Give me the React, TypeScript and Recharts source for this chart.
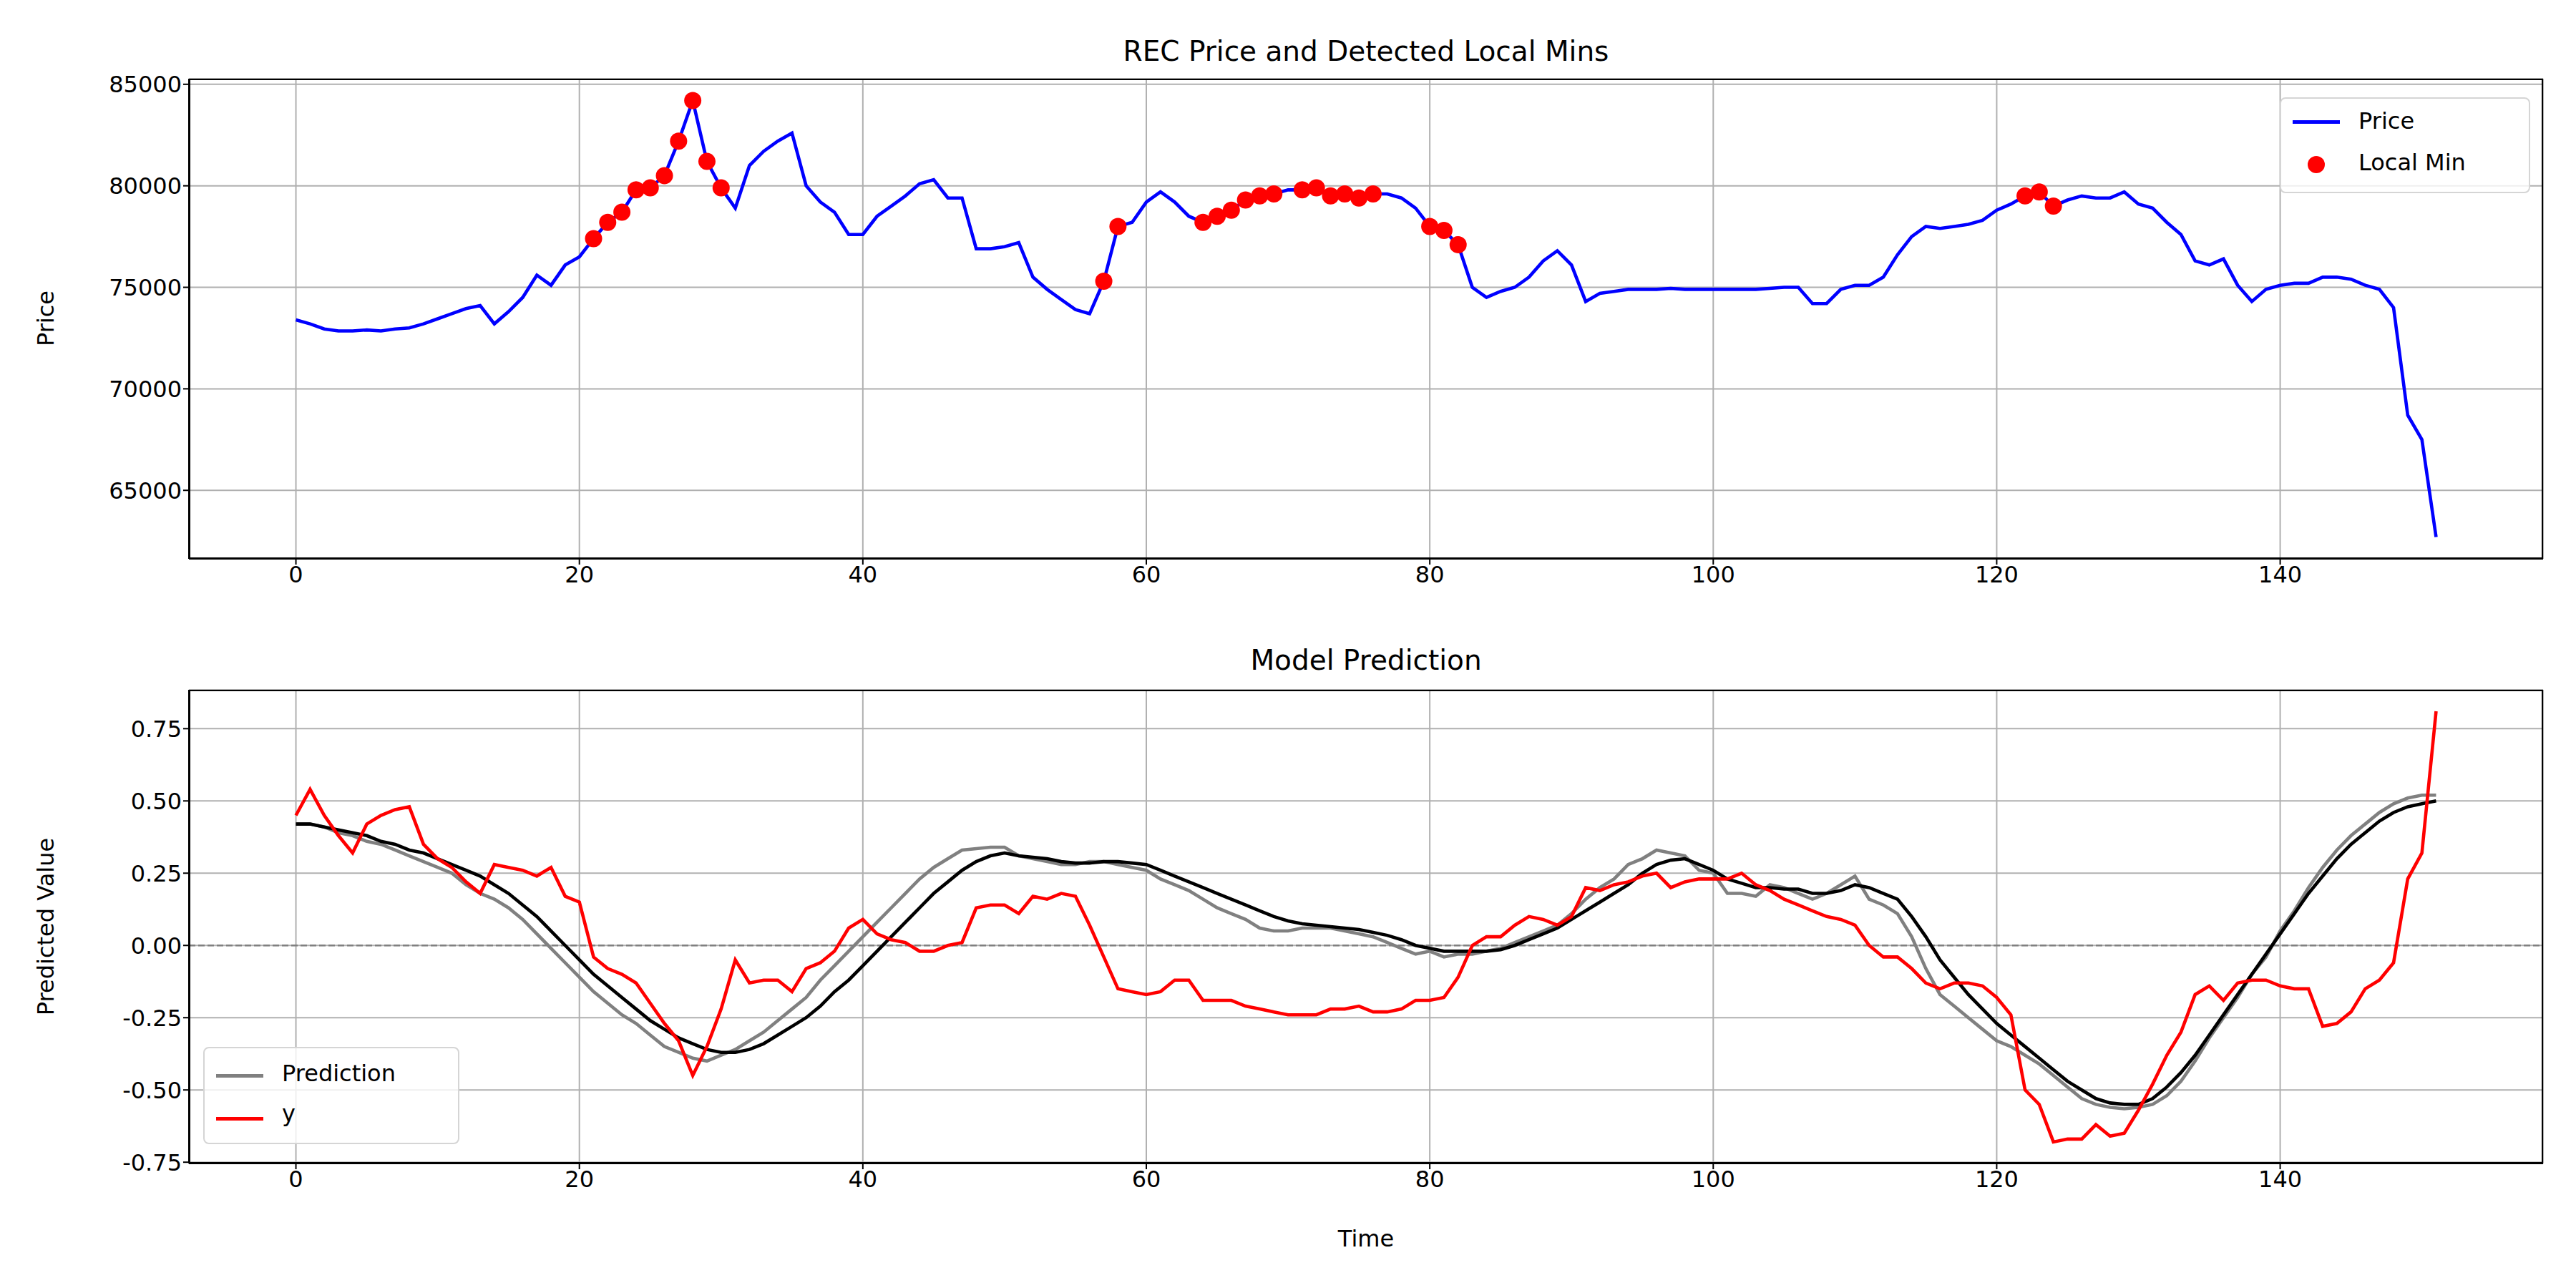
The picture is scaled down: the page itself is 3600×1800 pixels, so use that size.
import React from "react";
import { ComposedChart, Line, XAxis, YAxis, CartesianGrid, ReferenceLine } from "recharts";

const price = [
  73400, 73200, 72950, 72850, 72850, 72900, 72850, 72950, 73000, 73200,
  73450, 73700, 73950, 74100, 73200, 73800, 74500, 75600, 75100, 76100,
  76500, 77400, 78200, 78700, 79800, 79900, 80500, 82200, 84200, 81200,
  79900, 78900, 81000, 81700, 82200, 82600, 80000, 79200, 78700, 77600,
  77600, 78500, 79000, 79500, 80100, 80300, 79400, 79400, 76900, 76900,
  77000, 77200, 75500, 74900, 74400, 73900, 73700, 75300, 78000, 78200,
  79200, 79700, 79200, 78500, 78200, 78500, 78800, 79300, 79500, 79600,
  79800, 79800, 79900, 79500, 79600, 79400, 79600, 79600, 79400, 78900,
  78000, 77800, 77100, 75000, 74500, 74800, 75000, 75500, 76300, 76800,
  76100, 74300, 74700, 74800, 74900, 74900, 74900, 74950, 74900, 74900,
  74900, 74900, 74900, 74900, 74950, 75000, 75000, 74200, 74200, 74900,
  75100, 75100, 75500, 76600, 77500, 78000, 77900, 78000, 78100, 78300,
  78800, 79100, 79500, 79700, 79000, 79300, 79500, 79400, 79400, 79700,
  79100, 78900, 78200, 77600, 76300, 76100, 76400, 75100, 74300, 74900,
  75100, 75200, 75200, 75500, 75500, 75400, 75100, 74900, 74000, 68700,
  67500, 62700,
];

const localMinIdx = [21, 22, 23, 24, 25, 26, 27, 28, 29, 30, 57, 58, 64, 65, 66, 67, 68, 69, 71, 72, 73, 74, 75, 76, 80, 81, 82, 122, 123, 124];

const prediction = [
  0.42, 0.42, 0.41, 0.39, 0.38, 0.36, 0.35, 0.33, 0.31, 0.29,
  0.27, 0.25, 0.21, 0.18, 0.16, 0.13, 0.09, 0.04, -0.01, -0.06,
  -0.11, -0.16, -0.2, -0.24, -0.27, -0.31, -0.35, -0.37, -0.39, -0.4,
  -0.38, -0.36, -0.33, -0.3, -0.26, -0.22, -0.18, -0.12, -0.07, -0.02,
  0.03, 0.08, 0.13, 0.18, 0.23, 0.27, 0.3, 0.33, 0.335, 0.34,
  0.34, 0.31, 0.3, 0.29, 0.28, 0.28, 0.29, 0.29, 0.28, 0.27,
  0.26, 0.23, 0.21, 0.19, 0.16, 0.13, 0.11, 0.09, 0.06, 0.05,
  0.05, 0.06, 0.06, 0.06, 0.05, 0.04, 0.03, 0.01, -0.01, -0.03,
  -0.02, -0.04, -0.03, -0.03, -0.02, -0.01, 0.01, 0.03, 0.05, 0.07,
  0.11, 0.16, 0.2, 0.23, 0.28, 0.3, 0.33, 0.32, 0.31, 0.26,
  0.25, 0.18, 0.18, 0.17, 0.21, 0.2, 0.18, 0.16, 0.18, 0.21,
  0.24, 0.16, 0.14, 0.11, 0.03, -0.08, -0.17, -0.21, -0.25, -0.29,
  -0.33, -0.35, -0.38, -0.41, -0.45, -0.49, -0.53, -0.55, -0.56, -0.565,
  -0.56, -0.55, -0.52, -0.47, -0.4, -0.32, -0.25, -0.18, -0.1, -0.04,
  0.05, 0.12, 0.2, 0.27, 0.33, 0.38, 0.42, 0.46, 0.49, 0.51,
  0.52, 0.52,
];

const smoothed = [
  0.42, 0.42, 0.41, 0.4, 0.39, 0.38, 0.36, 0.35, 0.33, 0.32,
  0.3, 0.28, 0.26, 0.24, 0.21, 0.18, 0.14, 0.1, 0.05, 0.0,
  -0.05, -0.1, -0.14, -0.18, -0.22, -0.26, -0.29, -0.32, -0.34, -0.36,
  -0.37, -0.37, -0.36, -0.34, -0.31, -0.28, -0.25, -0.21, -0.16, -0.12,
  -0.07, -0.02, 0.03, 0.08, 0.13, 0.18, 0.22, 0.26, 0.29, 0.31,
  0.32, 0.31, 0.305, 0.3, 0.29, 0.285, 0.285, 0.29, 0.29, 0.285,
  0.28, 0.26, 0.24, 0.22, 0.2, 0.18, 0.16, 0.14, 0.12, 0.1,
  0.085, 0.075, 0.07, 0.065, 0.06, 0.055, 0.045, 0.035, 0.02, 0.0,
  -0.01, -0.02, -0.02, -0.02, -0.02, -0.015, 0.0, 0.02, 0.04, 0.06,
  0.09, 0.12, 0.15, 0.18, 0.21, 0.25, 0.28, 0.295, 0.3, 0.28,
  0.26, 0.23, 0.215, 0.2, 0.2, 0.195, 0.195, 0.18, 0.18, 0.19,
  0.21, 0.2, 0.18, 0.16, 0.1, 0.03, -0.05, -0.11, -0.17, -0.22,
  -0.27, -0.31, -0.35, -0.39, -0.43, -0.47, -0.5, -0.53, -0.545, -0.55,
  -0.55, -0.53, -0.49, -0.44, -0.38, -0.31, -0.24, -0.17, -0.1, -0.03,
  0.04, 0.11, 0.18, 0.24, 0.3, 0.35, 0.39, 0.43, 0.46, 0.48,
  0.49, 0.5,
];

const yTrue = [
  0.45, 0.54, 0.45, 0.38, 0.32, 0.42, 0.45, 0.47, 0.48, 0.35,
  0.3, 0.27, 0.22, 0.18, 0.28, 0.27, 0.26, 0.24, 0.27, 0.17,
  0.15, -0.04, -0.08, -0.1, -0.13, -0.2, -0.27, -0.33, -0.45, -0.35,
  -0.22, -0.05, -0.13, -0.12, -0.12, -0.16, -0.08, -0.06, -0.02, 0.06,
  0.09, 0.04, 0.02, 0.01, -0.02, -0.02, 0.0, 0.01, 0.13, 0.14,
  0.14, 0.11, 0.17, 0.16, 0.18, 0.17, 0.07, -0.04, -0.15, -0.16,
  -0.17, -0.16, -0.12, -0.12, -0.19, -0.19, -0.19, -0.21, -0.22, -0.23,
  -0.24, -0.24, -0.24, -0.22, -0.22, -0.21, -0.23, -0.23, -0.22, -0.19,
  -0.19, -0.18, -0.11, 0.0, 0.03, 0.03, 0.07, 0.1, 0.09, 0.07,
  0.1, 0.2, 0.19, 0.21, 0.22, 0.24, 0.25, 0.2, 0.22, 0.23,
  0.23, 0.23, 0.25, 0.21, 0.19, 0.16, 0.14, 0.12, 0.1, 0.09,
  0.07, 0.0, -0.04, -0.04, -0.08, -0.13, -0.15, -0.13, -0.13, -0.14,
  -0.18, -0.24, -0.5, -0.55, -0.68, -0.67, -0.67, -0.62, -0.66, -0.65,
  -0.57, -0.48, -0.38, -0.3, -0.17, -0.14, -0.19, -0.13, -0.12, -0.12,
  -0.14, -0.15, -0.15, -0.28, -0.27, -0.23, -0.15, -0.12, -0.06, 0.23,
  0.32, 0.81,
];

const xTicks = [0, 20, 40, 60, 80, 100, 120, 140];
const priceTicks = [65000, 70000, 75000, 80000, 85000];
const predTicks = [-0.75, -0.5, -0.25, 0, 0.25, 0.5, 0.75];

const topData = price.map((p, t) => ({ t, price: p, min: localMinIdx.includes(t) ? p : null }));
const bottomData = prediction.map((p, t) => ({ t, pred: p, smooth: smoothed[t], y: yTrue[t] }));

const FONT = "'DejaVu Sans', sans-serif";
const tick = { fill: "#000", fontSize: 32, fontFamily: FONT };
const PL = 264;
const PR = 3554;
const W = 3600;
const YW = 200;
const XH = 60;

const Frame = ({ top, bottom }: { top: number; bottom: number }) => (
  <div style={{ position: "absolute", left: PL, top, width: PR - PL, height: bottom - top, border: "2px solid #000", boxSizing: "border-box", pointerEvents: "none" }} />
);

const Text = ({ x, y, children, size = 39, rotate = false }: any) => (
  <div style={{ position: "absolute", left: x, top: y, transform: `translate(-50%, -50%)${rotate ? " rotate(-90deg)" : ""}`, fontFamily: FONT, fontSize: size, whiteSpace: "nowrap", color: "#000" }}>
    {children}
  </div>
);

export default function App() {
  const topH = 900;
  const botTop = 900;
  const botH = 900;
  return (
    <div style={{ position: "absolute", left: 0, top: 0, width: 3600, height: 1800, background: "#fff" }}>
      <div style={{ position: "absolute", left: 0, top: 0 }}>
        <ComposedChart width={W} height={topH} data={topData} margin={{ top: 110, bottom: topH - 781 - XH, left: PL - YW, right: W - PR }}>
          <CartesianGrid stroke="#b0b0b0" strokeWidth={2} />
          <XAxis dataKey="t" type="number" height={XH} domain={[-7.55, 158.55]} ticks={xTicks} tick={tick} tickSize={8} stroke="#000" strokeWidth={2} allowDataOverflow />
          <YAxis type="number" domain={[61625, 85275]} ticks={priceTicks} tick={tick} tickSize={8} width={YW} stroke="#000" strokeWidth={2} allowDataOverflow />
          <Line dataKey="price" stroke="#0000ff" strokeWidth={4.6} dot={false} isAnimationActive={false} />
          <Line dataKey="min" stroke="none" connectNulls={false} dot={{ r: 12, fill: "#ff0000", stroke: "none" }} isAnimationActive={false} />
        </ComposedChart>
      </div>
      <div style={{ position: "absolute", left: 0, top: botTop }}>
        <ComposedChart width={W} height={botH} data={bottomData} margin={{ top: 964 - botTop, bottom: botTop + botH - 1626 - XH, left: PL - YW, right: W - PR }}>
          <CartesianGrid stroke="#b0b0b0" strokeWidth={2} />
          <XAxis dataKey="t" type="number" height={XH} domain={[-7.55, 158.55]} ticks={xTicks} tick={tick} tickSize={8} stroke="#000" strokeWidth={2} allowDataOverflow />
          <YAxis type="number" domain={[-0.7545, 0.8845]} ticks={predTicks} tickFormatter={(v: number) => v.toFixed(2)} tick={tick} tickSize={8} width={YW} stroke="#000" strokeWidth={2} allowDataOverflow />
          <ReferenceLine y={0} stroke="#808080" strokeWidth={2.5} strokeDasharray="9 4" />
          <Line dataKey="pred" stroke="#808080" strokeWidth={4.6} dot={false} isAnimationActive={false} />
          <Line dataKey="smooth" stroke="#000000" strokeWidth={4.6} dot={false} isAnimationActive={false} />
          <Line dataKey="y" stroke="#ff0000" strokeWidth={4.6} dot={false} isAnimationActive={false} />
        </ComposedChart>
      </div>
      <Frame top={110} bottom={781} />
      <Frame top={964} bottom={1626} />
      <Text x={(PL + PR) / 2} y={71}>REC Price and Detected Local Mins</Text>
      <Text x={(PL + PR) / 2} y={922}>Model Prediction</Text>
      <Text x={64} y={445} size={32} rotate>Price</Text>
      <Text x={64} y={1295} size={32} rotate>Predicted Value</Text>
      <Text x={(PL + PR) / 2} y={1731} size={32}>Time</Text>
      <div style={{ position: "absolute", left: 3186, top: 136, width: 350, height: 134, border: "2px solid #d5d5d5", borderRadius: 8, background: "rgba(255,255,255,0.8)", boxSizing: "border-box", fontFamily: FONT, fontSize: 32 }}>
        <div style={{ position: "absolute", left: 16, top: 30, width: 66, height: 5, background: "#0000ff" }} />
        <div style={{ position: "absolute", left: 108, top: 12 }}>Price</div>
        <div style={{ position: "absolute", left: 37, top: 80, width: 24, height: 24, borderRadius: 12, background: "#ff0000" }} />
        <div style={{ position: "absolute", left: 108, top: 70 }}>Local Min</div>
      </div>
      <div style={{ position: "absolute", left: 284, top: 1463, width: 358, height: 136, border: "2px solid #d5d5d5", borderRadius: 8, background: "rgba(255,255,255,0.8)", boxSizing: "border-box", fontFamily: FONT, fontSize: 32 }}>
        <div style={{ position: "absolute", left: 16, top: 36, width: 66, height: 5, background: "#808080" }} />
        <div style={{ position: "absolute", left: 108, top: 16 }}>Prediction</div>
        <div style={{ position: "absolute", left: 16, top: 96, width: 66, height: 5, background: "#ff0000" }} />
        <div style={{ position: "absolute", left: 108, top: 72 }}>y</div>
      </div>
    </div>
  );
}
